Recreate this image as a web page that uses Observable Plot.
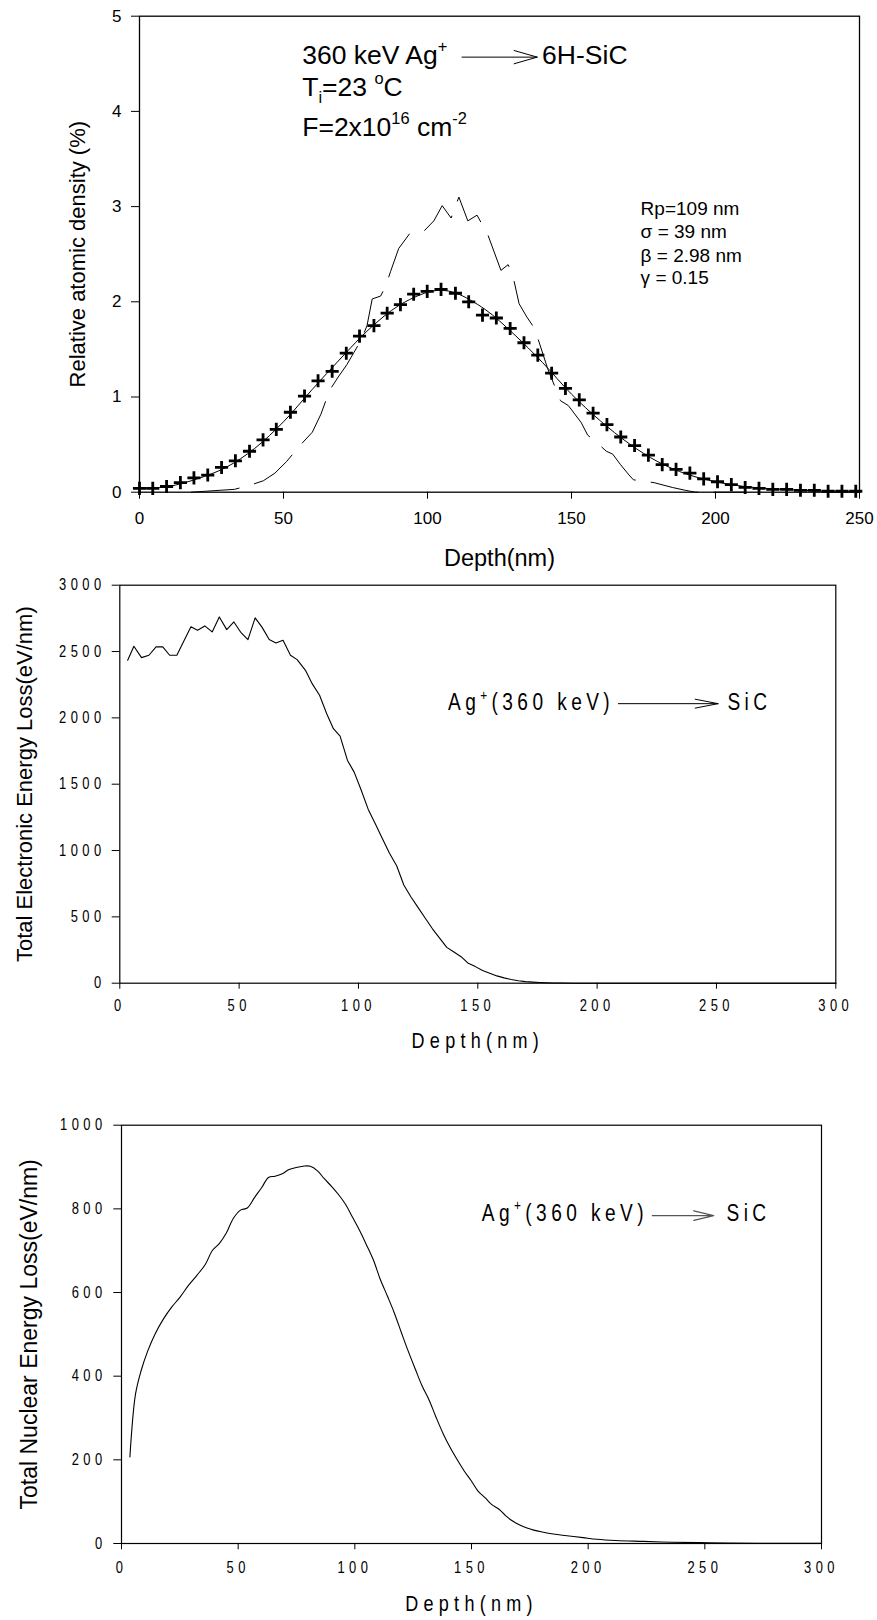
<!DOCTYPE html>
<html><head><meta charset="utf-8">
<script src="https://cdn.jsdelivr.net/npm/d3@7"></script>
<script src="https://cdn.jsdelivr.net/npm/@observablehq/plot@0.6"></script>
<style>
html,body{margin:0;padding:0;background:#fff;}
#wrap{width:877px;height:1620px;position:relative;overflow:hidden;background:#fff;}
#wrap svg{display:block;position:absolute;left:0;background:#fff;}
#wrap svg text{fill:#000;font-family:"Liberation Sans",Arial,sans-serif;}
.p1 g[aria-label="x-axis tick label"] text,.p1 g[aria-label="y-axis tick label"] text{font-size:17px;}
.p1 g[aria-label="x-axis label"] text{font-size:23.5px;}
.p1 g[aria-label="y-axis label"] text{font-size:22px;}
.p2 g[aria-label="y-axis label"] text{font-size:22px;}
.p3 g[aria-label="y-axis label"] text{font-size:23px;}
.narrow g[aria-label="x-axis tick label"] text,.narrow g[aria-label="y-axis tick label"] text{font-size:15.8px;letter-spacing:5.4px;}
.narrow g[aria-label="x-axis label"] text{font-size:22px;letter-spacing:6.4px;}
.narrow g[aria-label="text"] text{font-size:23.3px;letter-spacing:5.4px;}
</style>
</head><body>
<div id="wrap"></div>
<script>
// ---------- Panel 1: Ag profile in 6H-SiC ----------
const markerDepth = [0,4.6,9.4,14.2,18.9,23.7,28.5,33.3,38.2,42.9,47.5,52.4,57.3,62.0,66.9,71.8,76.4,81.4,86.0,90.6,95.2,99.9,104.7,109.7,114.3,119.1,123.9,128.7,133.5,138.3,143.1,147.9,152.7,157.5,162.3,167.1,171.9,176.7,181.5,186.3,191.1,195.9,200.7,205.5,210.3,215.1,219.9,224.7,229.5,234.3,239.1,243.9,248.7];
const markerValue = [0.04,0.04,0.06,0.10,0.15,0.18,0.26,0.33,0.43,0.55,0.66,0.84,1.01,1.17,1.27,1.46,1.64,1.75,1.88,1.97,2.08,2.11,2.13,2.09,2.00,1.86,1.83,1.72,1.57,1.44,1.25,1.09,0.97,0.83,0.71,0.58,0.49,0.39,0.29,0.24,0.20,0.14,0.11,0.08,0.05,0.04,0.03,0.03,0.02,0.02,0.01,0.01,0.01];
const fitDepth = [0,10,20,30,40,50,60,70,80,90,100,105,110,120,130,140,150,160,170,180,190,200,210,220,230,240,250];
const fitValue = [0.04,0.06,0.14,0.26,0.46,0.74,1.08,1.41,1.72,1.96,2.10,2.12,2.09,1.92,1.66,1.36,1.03,0.75,0.51,0.32,0.19,0.11,0.06,0.035,0.02,0.01,0.01];
const rbsDepth = [18,23,28,33,38,43,47,51,56,60,63,66,69,72,74.5,77,79,80.8,83.7,85.4,87.2,90,93.9,96,99,102.2,105.1,108.2,110.9,114,117.2,121,125.5,128,129.6,131.8,134.5,137.2,141.7,146.2,148.9,153.4,155.6,158.8,162.1,164.3,167,170,171.5,174.2,178.7,185,189.5,193,210];
const rbsValue = [0.00,0.01,0.02,0.03,0.07,0.12,0.20,0.32,0.50,0.63,0.82,1.07,1.21,1.34,1.47,1.60,1.75,2.03,2.06,2.16,2.32,2.56,2.72,2.74,2.75,2.85,3.01,2.88,3.10,2.85,2.91,2.70,2.33,2.39,2.28,1.98,1.84,1.72,1.30,0.96,0.91,0.73,0.60,0.52,0.43,0.40,0.29,0.18,0.13,0.12,0.10,0.05,0.02,0.00,0.00];
const p1XTicks = [0,50,100,150,200,250];
const p1YTicks = [0,1,2,3,4,5];
const p1Params = ["Rp=109 nm","\u03c3 = 39 nm","\u03b2 = 2.98 nm","\u03b3 = 0.15"];
const p1Header = ["360 keV Ag^{+}","T_{i}=23 ^{o}C","F=2x10^{16} cm^{-2}"];

// ---------- Panel 2: electronic energy loss ----------
const elecDepth = [3.3,5.9,9.1,12.2,15.2,18.0,20.9,23.9,27.0,29.8,32.6,35.6,38.7,41.7,44.8,47.8,50.9,53.7,56.7,59.5,62.6,65.4,68.4,71.5,74.3,77.8,80.6,83.7,86.7,89.5,92.3,95.4,98.2,101.2,104.1,107.1,110,113,116,119,122,125,128,131,134,137,140,143,146,149,152,155,158,161,164,167,170,173,176,179,182,185,190,200,220,250,280,300];
const elecLoss = [2434,2540,2454,2472,2535,2535,2472,2472,2585,2686,2660,2693,2648,2761,2665,2723,2640,2590,2754,2686,2590,2565,2585,2472,2439,2358,2258,2170,2031,1918,1863,1679,1591,1452,1310,1200,1090,980,885,740,650,570,490,410,340,270,235,200,150,125,95,75,55,40,28,19,12,8,5,3,2,1,0,0,0,0,0,0];
const p2XTicks = [0,50,100,150,200,250,300];
const p2YTicks = [0,500,1000,1500,2000,2500,3000];

// ---------- Panel 3: nuclear energy loss ----------
const nuclDepth = [3.6,6.0,8.4,11.3,14.4,18.0,21.5,25.1,28.7,32.3,35.9,39.0,41.9,44.8,47.9,51.0,53.9,57.0,60.1,63.0,65.8,68.9,71.8,74.9,77.8,80.9,84.0,86.9,90.0,92.9,96.0,98.9,102.0,104.9,108.0,110.8,114.0,116.8,119.9,122.8,125.9,128.8,131.9,134.8,137.9,140.8,143.9,146.8,149.9,152.7,155.9,158.7,161.8,164.7,167.8,170.7,173.8,176.7,179.8,185.8,191.8,197.8,203.7,211.9,223.8,235.8,247.8,259.8,283.7,300];
const nuclLoss = [207,357,413,461,501,537,565,589,617,641,667,701,717,741,777,797,802,827,851,875,878,884,894,899,902,902,891,872,854,835,811,781,749,715,677,633,591,553,505,461,417,377,342,302,262,230,200,174,150,126,109,93,82,66,53,44,37,32,28,22,18,14,10,7,5,3,2,1,0.5,0.3];
const p3XTicks = [0,50,100,150,200,250,300];
const p3YTicks = [0,200,400,600,800,1000];

const table = (xs, ys) => xs.map((x, i) => ({x, y: ys[i]}));

function rich(svg) {
  svg.querySelectorAll("text").forEach(t => {
    const s = t.textContent;
    if (!/[\^_]\{/.test(s)) return;
    const fs = parseFloat(getComputedStyle(t).fontSize);
    t.textContent = "";
    const re = /([\^_])\{([^}]*)\}|([^\^_]+)/g;
    let m, shift = 0;
    while ((m = re.exec(s))) {
      const ts = document.createElementNS("http://www.w3.org/2000/svg", "tspan");
      let target = 0, size = null;
      if (m[1] === "^") { target = -0.45 * fs; size = 0.62 * fs; ts.textContent = m[2]; }
      else if (m[1] === "_") { target = 0.26 * fs; size = 0.62 * fs; ts.textContent = m[2]; }
      else ts.textContent = m[3];
      ts.setAttribute("dy", (target - shift).toFixed(2));
      shift = target;
      if (size) ts.setAttribute("font-size", size.toFixed(1));
      t.appendChild(ts);
    }
  });
}

// horizontally condense glyphs (Arial Narrow look) about each text's own anchor
function condense(svg, selector, f) {
  svg.querySelectorAll(selector).forEach(t => {
    const tr = t.getAttribute("transform");
    if (tr && tr.includes("translate")) t.setAttribute("transform", tr + ` scale(${f},1)`);
  });
}

const wrap = document.getElementById("wrap");
function place(svg, top, cls) {
  svg.style.top = top + "px";
  cls.split(" ").forEach(c => svg.classList.add(c));
  wrap.appendChild(svg);
  rich(svg);
  if (svg.classList.contains("narrow")) {
    condense(svg, 'g[aria-label="x-axis tick label"] text, g[aria-label="y-axis tick label"] text, g[aria-label="x-axis label"] text, g[aria-label="text"] text', 0.82);
  }
}

// Panel 1
const p1 = Plot.plot({
  width: 877, height: 575,
  marginTop: 15.7, marginRight: 18, marginBottom: 83.3, marginLeft: 139,
  x: {domain: [0, 250], ticks: p1XTicks, tickFormat: "d", tickSize: 7, tickPadding: 13,
      label: "Depth(nm)", labelAnchor: "center", labelOffset: 74, labelArrow: "none"},
  y: {domain: [0, 5], ticks: p1YTicks, tickFormat: "d", tickSize: 8, tickPadding: 10,
      label: "Relative atomic density (%)", labelAnchor: "center", labelOffset: 70, labelArrow: "none"},
  marks: [
    Plot.line(table(rbsDepth, rbsValue), {x: "x", y: "y", stroke: "black", strokeWidth: 1, strokeDasharray: "48,16"}),
    Plot.line(table(fitDepth, fitValue), {x: "x", y: "y", stroke: "black", strokeWidth: 1, curve: "catmull-rom"}),
    Plot.dot(table(markerDepth, markerValue), {x: "x", y: "y", symbol: "plus", r: 4.3, stroke: "black", strokeWidth: 2.8}),
    Plot.frame({stroke: "black", strokeWidth: 1.3}),
    Plot.text(p1Header, {x: 56.5, y: [4.59, 4.25, 3.83], textAnchor: "start", fontSize: 26.5}),
    Plot.text(["6H-SiC"], {x: 139.8, y: 4.59, textAnchor: "start", fontSize: 26.5}),
    Plot.arrow([0], {x1: 112, y1: 4.57, x2: 138.1, y2: 4.57, stroke: "black", strokeWidth: 1, headLength: 36, headAngle: 32}),
    Plot.text(p1Params, {x: 174, y: [2.98, 2.73, 2.48, 2.25], textAnchor: "start", fontSize: 19})
  ]
});
place(p1, 0, "p1");

// Panel 2
const p2 = Plot.plot({
  width: 877, height: 500,
  marginTop: 9.7, marginRight: 41.7, marginBottom: 92.3, marginLeft: 119.3,
  x: {domain: [0, 300], ticks: p2XTicks, tickFormat: "d", tickSize: 6, tickPadding: 10.6,
      label: "Depth(nm)", labelAnchor: "center", labelOffset: 65, labelArrow: "none"},
  y: {domain: [0, 3000], ticks: p2YTicks, tickFormat: "d", tickSize: 7.6, tickPadding: 6.6,
      label: "Total Electronic Energy Loss(eV/nm)", labelAnchor: "center", labelOffset: 103.5, labelArrow: "none"},
  marks: [
    Plot.line(table(elecDepth, elecLoss), {x: "x", y: "y", stroke: "black", strokeWidth: 1.1}),
    Plot.frame({stroke: "black", strokeWidth: 1.2}),
    Plot.text(["Ag^{+}(360 keV)"], {x: 137.5, y: 2112, textAnchor: "start"}),
    Plot.text(["SiC"], {x: 254.6, y: 2112, textAnchor: "start"}),
    Plot.arrow([0], {x1: 208.9, y1: 2107, x2: 250.7, y2: 2107, stroke: "black", strokeWidth: 1, headLength: 35, headAngle: 22})
  ]
});
place(p2, 575, "p2 narrow");

// Panel 3
const p3 = Plot.plot({
  width: 877, height: 545,
  marginTop: 49.7, marginRight: 56, marginBottom: 77, marginLeft: 121,
  x: {domain: [0, 300], ticks: p3XTicks, tickFormat: "d", tickSize: 6.3, tickPadding: 12.4,
      label: "Depth(nm)", labelAnchor: "center", labelOffset: 67.5, labelArrow: "none"},
  y: {domain: [0, 1000], ticks: p3YTicks, tickFormat: "d", tickSize: 7.7, tickPadding: 7.2,
      label: "Total Nuclear Energy Loss(eV/nm)", labelAnchor: "center", labelOffset: 100.6, labelArrow: "none"},
  marks: [
    Plot.line(table(nuclDepth, nuclLoss), {x: "x", y: "y", stroke: "black", strokeWidth: 1.1, curve: "catmull-rom"}),
    Plot.frame({stroke: "black", strokeWidth: 1.2}),
    Plot.text(["Ag^{+}(360 keV)"], {x: 154.4, y: 790, textAnchor: "start"}),
    Plot.text(["SiC"], {x: 259.3, y: 790, textAnchor: "start"}),
    Plot.arrow([0], {x1: 227.5, y1: 784, x2: 253.8, y2: 784, stroke: "#555", strokeWidth: 1.3, headLength: 34, headAngle: 27})
  ]
});
place(p3, 1075, "p3 narrow");
</script>
</body></html>
